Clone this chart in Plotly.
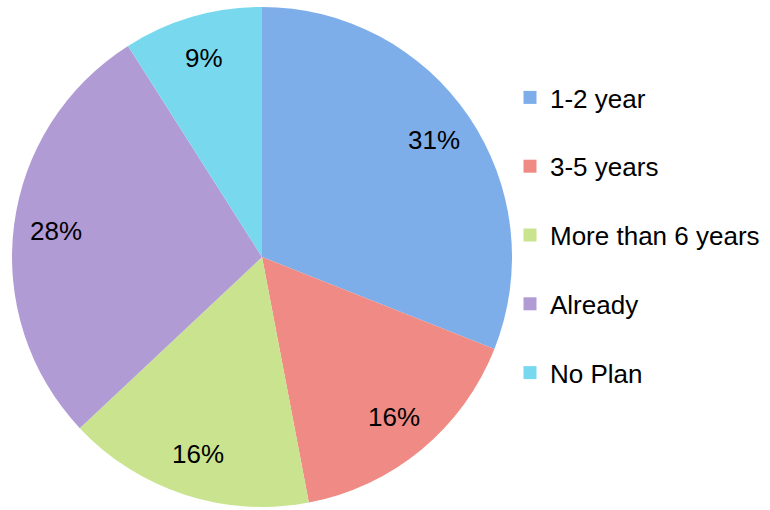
import math
import plotly.graph_objects as go

labels = ["1-2 year", "3-5 years", "More than 6 years", "Already", "No Plan"]
values = [31, 16, 16, 28, 9]
colors = ["#7eaeea", "#ef8b84", "#c9e38f", "#b19bd5", "#78d9ee"]

W, H = 770, 510
cx, cy, R = 262, 257, 250
font = "Liberation Sans, Arial, Helvetica, sans-serif"

fig = go.Figure()
fig.add_trace(go.Pie(
    labels=labels, values=values, sort=False, direction="clockwise", rotation=0,
    marker=dict(colors=colors, line=dict(width=0)),
    textinfo="none", showlegend=False, hoverinfo="label+percent",
    domain=dict(x=[(cx - R) / W, (cx + R) / W], y=[(H - cy - R) / H, (H - cy + R) / H]),
))

# percent labels placed along each slice's mid-angle
total = sum(values)
cum = 0
annotations = []
for v in values:
    mid = (cum + v / 2) / total * 2 * math.pi
    cum += v
    r = 0.83 * R
    px = cx + r * math.sin(mid)
    py = cy - r * math.cos(mid)
    annotations.append(dict(
        x=px / W, y=(H - py) / H, xref="paper", yref="paper",
        text=f"{round(v / total * 100)}%", showarrow=False,
        font=dict(family=font, size=26, color="#000000"),
        xanchor="center", yanchor="middle",
    ))

# legend entries
for lab, col in zip(labels, colors):
    fig.add_trace(go.Scatter(
        x=[None], y=[None], mode="markers", name=lab, legendgroup=lab,
        marker=dict(symbol="square", size=13, color=col),
        showlegend=True,
    ))

fig.update_layout(
    width=W, height=H,
    margin=dict(l=0, r=0, t=0, b=0),
    paper_bgcolor="white", plot_bgcolor="white",
    xaxis=dict(visible=False), yaxis=dict(visible=False),
    annotations=annotations,
    legend=dict(
        x=510 / W, y=(H - 74) / H, xanchor="left", yanchor="top",
        font=dict(family=font, size=26, color="#000000"),
        tracegroupgap=32, itemwidth=30, bgcolor="rgba(0,0,0,0)",
    ),
)

fig.write_html("out.html", config={"displayModeBar": False},
               post_script="document.body.style.margin='0';")
